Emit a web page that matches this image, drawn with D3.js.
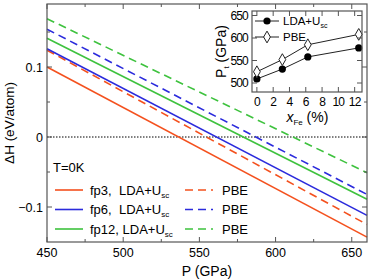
<!DOCTYPE html>
<html>
<head>
<meta charset="utf-8">
<script src="https://cdn.jsdelivr.net/npm/d3@7"></script>
<style>
  body { margin: 0; background: #fff; }
  svg { display: block; font-family: "Liberation Sans", Arial, sans-serif; }
</style>
</head>
<body>
<div id="chart"></div>
<script>
// main panel: dH vs P, straight lines read at both ends of the axis
const pressures = [450, 660];
const seriesNames = ["fp3", "fp6", "fp12"];
const ldaDH = [[0.100, -0.143], [0.126, -0.112], [0.141, -0.089]];
const pbeDH = [[0.124, -0.125], [0.154, -0.082], [0.169, -0.051]];
const colors = ["#f4511e", "#2b2bdc", "#3ec23e"];
const xTicks = [450, 500, 550, 600, 650];
const yTicks = [-0.1, 0, 0.1];

// inset: transition pressure vs Fe content
const xFe = [0, 3.125, 6.25, 12.5];
const ptLDA = [509, 531, 558, 578];
const ptPBE = [525, 552, 585, 608];
const insetXTicks = [0, 2, 4, 6, 8, 10, 12];
const insetYTicks = [500, 550, 600, 650];

const W = 374, H = 280;
const margin = {top: 4, right: 7, bottom: 38, left: 47};

const svg = d3.select("#chart").append("svg")
    .attr("width", W).attr("height", H);

const x = d3.scaleLinear().domain([450, 660]).range([margin.left, W - margin.right]);
const y = d3.scaleLinear().domain([-0.15, 0.19]).range([H - margin.bottom, margin.top]);

// zero line
svg.append("line")
    .attr("x1", x(450)).attr("x2", x(660))
    .attr("y1", y(0)).attr("y2", y(0))
    .attr("stroke", "#000").attr("stroke-width", 1)
    .attr("stroke-dasharray", "1.5,1.5");

const line = d3.line().x(d => x(d[0])).y(d => y(d[1]));

seriesNames.forEach((name, i) => {
    svg.append("path")
        .datum(pressures.map((p, j) => [p, ldaDH[i][j]]))
        .attr("d", line).attr("fill", "none")
        .attr("stroke", colors[i]).attr("stroke-width", 1.6);
    svg.append("path")
        .datum(pressures.map((p, j) => [p, pbeDH[i][j]]))
        .attr("d", line).attr("fill", "none")
        .attr("stroke", colors[i]).attr("stroke-width", 1.6)
        .attr("stroke-dasharray", "8,5");
});

// axes with inward ticks on all sides
function frameAxes(g, xs, ys, xt, yt, xMinor, yMinor, fs, ls) {
    const [x0, x1] = xs.range();
    const [y0, y1] = ys.range();
    g.append("rect")
        .attr("x", x0).attr("y", y1).attr("width", x1 - x0).attr("height", y0 - y1)
        .attr("fill", "none").attr("stroke", "#555").attr("stroke-width", 1.2);
    const tk = g.append("g").attr("stroke", "#555").attr("stroke-width", 1);
    xt.concat(xMinor).forEach(v => {
        const len = xt.includes(v) ? 5 : 3;
        tk.append("line").attr("x1", xs(v)).attr("x2", xs(v)).attr("y1", y0).attr("y2", y0 - len);
        tk.append("line").attr("x1", xs(v)).attr("x2", xs(v)).attr("y1", y1).attr("y2", y1 + len);
    });
    yt.concat(yMinor).forEach(v => {
        const len = yt.includes(v) ? 5 : 3;
        tk.append("line").attr("y1", ys(v)).attr("y2", ys(v)).attr("x1", x0).attr("x2", x0 + len);
        tk.append("line").attr("y1", ys(v)).attr("y2", ys(v)).attr("x1", x1).attr("x2", x1 - len);
    });
    g.selectAll(".xl").data(xt).enter().append("text")
        .attr("x", d => xs(d)).attr("y", y0 + fs + 2)
        .attr("text-anchor", "middle").attr("font-size", fs)
        .attr("letter-spacing", ls).text(d => d);
    g.selectAll(".yl").data(yt).enter().append("text")
        .attr("x", x0 - 4).attr("y", d => ys(d) + fs * 0.36)
        .attr("text-anchor", "end").attr("font-size", fs)
        .attr("letter-spacing", ls)
        .text(d => d < 0 ? "\u2212" + Math.abs(d) : d);
}

frameAxes(svg.append("g"), x, y, xTicks, yTicks,
    [475, 525, 575, 625], [-0.05, 0.05, 0.15], 12.5, 0);

svg.append("text")
    .attr("x", x(555)).attr("y", 276)
    .attr("text-anchor", "middle").attr("font-size", 14)
    .text("P (GPa)");
svg.append("text")
    .attr("transform", `translate(14,${y(0.02)}) rotate(-90)`)
    .attr("text-anchor", "middle").attr("font-size", 13.5)
    .text("\u0394H (eV/atom)");

// legend
const leg = svg.append("g");
leg.append("text").attr("x", 53).attr("y", 172).attr("font-size", 13).text("T=0K");
seriesNames.forEach((name, i) => {
    const ly = 190 + i * 19.5;
    leg.append("line").attr("x1", 55).attr("x2", 83).attr("y1", ly).attr("y2", ly)
        .attr("stroke", colors[i]).attr("stroke-width", 1.6);
    const t = leg.append("text").attr("x", 90).attr("y", ly + 4.5).attr("font-size", 13)
        .attr("xml:space", "preserve");
    t.append("tspan").text(name + (name.length < 4 ? ",  " : ", ") + "LDA+U");
    t.append("tspan").attr("font-size", 8).attr("dy", 3).text("sc");
    leg.append("line").attr("x1", 185).attr("x2", 213).attr("y1", ly).attr("y2", ly)
        .attr("stroke", colors[i]).attr("stroke-width", 1.6)
        .attr("stroke-dasharray", "8,5");
    leg.append("text").attr("x", 222).attr("y", ly + 4.5).attr("font-size", 13).text("PBE");
});

// inset
const ix = d3.scaleLinear().domain([-0.6, 12.9]).range([252, 362]);
const iy = d3.scaleLinear().domain([480, 660]).range([92, 11]);
const inset = svg.append("g");
inset.append("rect").attr("x", 252).attr("y", 11).attr("width", 110).attr("height", 81)
    .attr("fill", "#fff");

const iline = d3.line().x(d => ix(d[0])).y(d => iy(d[1]));
inset.append("path").datum(xFe.map((v, i) => [v, ptLDA[i]]))
    .attr("d", iline).attr("fill", "none").attr("stroke", "#222").attr("stroke-width", 1);
inset.append("path").datum(xFe.map((v, i) => [v, ptPBE[i]]))
    .attr("d", iline).attr("fill", "none").attr("stroke", "#222").attr("stroke-width", 1);

const diamond = d3.symbol().type(d3.symbolDiamond).size(40);
inset.selectAll(".lda").data(xFe).enter().append("circle")
    .attr("cx", d => ix(d)).attr("cy", (d, i) => iy(ptLDA[i])).attr("r", 3.6)
    .attr("fill", "#000");
inset.selectAll(".pbe").data(xFe).enter().append("path")
    .attr("d", diamond)
    .attr("transform", (d, i) => `translate(${ix(d)},${iy(ptPBE[i])})`)
    .attr("fill", "#fff").attr("stroke", "#222").attr("stroke-width", 1);

frameAxes(inset, ix, iy, insetXTicks, insetYTicks, [], [], 12, -0.8);

// inset legend
inset.append("line").attr("x1", 255).attr("x2", 279).attr("y1", 21).attr("y2", 21)
    .attr("stroke", "#222");
inset.append("circle").attr("cx", 267).attr("cy", 21).attr("r", 3.6).attr("fill", "#000");
const il = inset.append("text").attr("x", 283).attr("y", 25).attr("font-size", 11.5);
il.append("tspan").text("LDA+U");
il.append("tspan").attr("font-size", 7).attr("dy", 3).text("sc");
inset.append("line").attr("x1", 255).attr("x2", 279).attr("y1", 37).attr("y2", 37)
    .attr("stroke", "#222");
inset.append("path").attr("d", diamond).attr("transform", "translate(267,37)")
    .attr("fill", "#fff").attr("stroke", "#222");
inset.append("text").attr("x", 283).attr("y", 41).attr("font-size", 11.5).text("PBE");

// inset axis titles
const pt = inset.append("text")
    .attr("transform", `translate(226,${iy(570)}) rotate(-90)`)
    .attr("text-anchor", "middle").attr("font-size", 14);
pt.append("tspan").text("P");
pt.append("tspan").attr("font-size", 8).attr("dy", 3).text("t");
pt.append("tspan").attr("dy", -3).text(" (GPa)");

const xl = inset.append("text").attr("x", ix(6.2)).attr("y", 122)
    .attr("text-anchor", "middle").attr("font-size", 14);
xl.append("tspan").attr("font-style", "italic").text("x");
xl.append("tspan").attr("font-size", 8).attr("dy", 3).text("Fe");
xl.append("tspan").attr("dy", -3).text(" (%)");
</script>
</body>
</html>
